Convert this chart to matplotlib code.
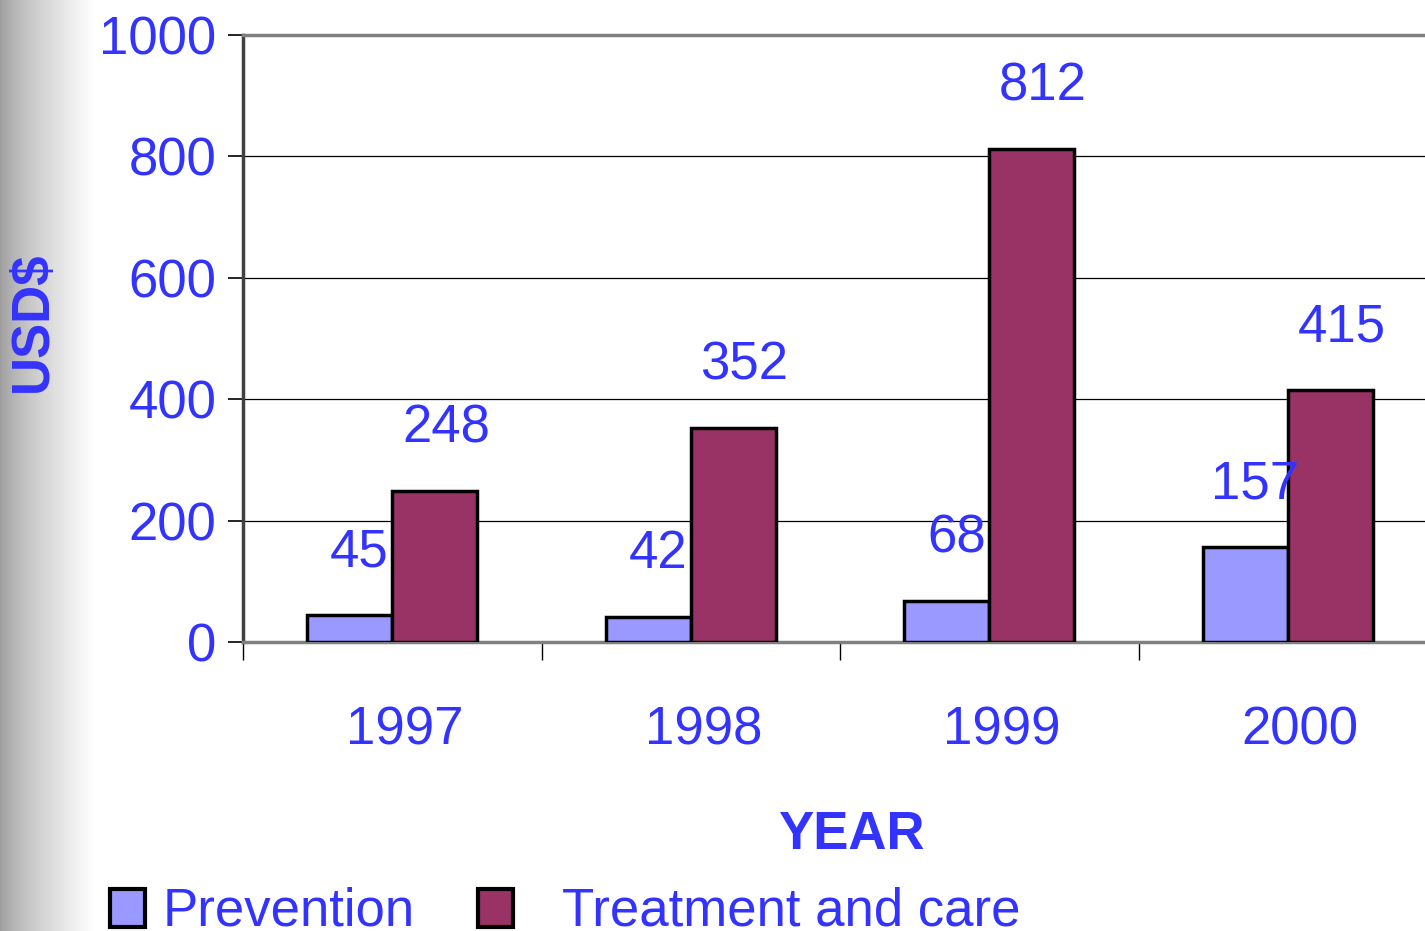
import numpy as np
import matplotlib
matplotlib.use("Agg")
import matplotlib.pyplot as plt
import matplotlib.transforms as mtransforms
from matplotlib.patches import Rectangle

plt.rcParams["font.family"] = ["Liberation Sans", "DejaVu Sans"]

# data
years = ["1997", "1998", "1999", "2000"]
prevention = [45, 42, 68, 157]
treatment = [248, 352, 812, 415]
series_names = ["Prevention", "Treatment and care"]

BLUE = "#3333FF"
C_PREV = "#9999FF"
C_TREAT = "#993366"
FS = 38

fig = plt.figure(figsize=(14.25, 9.31), dpi=100, facecolor="white")

# grey gradient strip on the left
bg = fig.add_axes([0, 0, 0.066, 1], zorder=0)
grad = np.linspace(0, 1, 256).reshape(1, -1) ** 0.7
bg.imshow(grad, aspect="auto", cmap="gray", vmin=-1.55, vmax=1.0, extent=[0, 1, 0, 1])
bg.axis("off")

# main axes: x from 243px, y from 35px (top) to 642px (bottom)
W, H = 1425, 931
left = 243 / W
width = 4 * 298.5 / W
bottom = (H - 642) / H
height = (642 - 35) / H
ax = fig.add_axes([left, bottom, width, height], zorder=1)
ax.set_facecolor("none")

x = np.arange(len(years))
bw = 0.285
ax.bar(x - bw / 2, prevention, bw, color=C_PREV, edgecolor="black", linewidth=2.5, zorder=3)
ax.bar(x + bw / 2, treatment, bw, color=C_TREAT, edgecolor="black", linewidth=2.5, zorder=3)

for xi, v in zip(x - bw / 2, prevention):
    ax.annotate(str(v), (xi, v), xytext=(7, 45), textcoords="offset points",
                ha="center", va="center", fontsize=FS, color=BLUE, zorder=5)
for xi, v in zip(x + bw / 2, treatment):
    ax.annotate(str(v), (xi, v), xytext=(8, 45), textcoords="offset points",
                ha="center", va="center", fontsize=FS, color=BLUE, zorder=2)

ax.set_xlim(-0.5, 3.5)
ax.set_ylim(0, 1000)
ax.set_yticks(range(0, 1001, 200))
ax.set_yticklabels([str(v) for v in range(0, 1001, 200)], fontsize=FS, color=BLUE)
ax.tick_params(axis="y", direction="out", length=11, width=1.2, pad=8)

ax.set_xticks(x)
ax.set_xticklabels(years, fontsize=FS, color=BLUE)
ax.tick_params(axis="x", which="major", length=0, pad=46)
shift = mtransforms.ScaledTranslation(9 / 72, 0, fig.dpi_scale_trans)
for lbl in ax.get_xticklabels():
    lbl.set_transform(lbl.get_transform() + shift)
ax.set_xticks(np.arange(-0.5, 4.0, 1.0), minor=True)
ax.tick_params(axis="x", which="minor", direction="out", length=13, width=1.0)

ax.yaxis.grid(True, color="black", linewidth=0.9, zorder=1)
ax.set_axisbelow(True)

ax.spines["right"].set_visible(False)
ax.spines["top"].set_color("#808080")
ax.spines["top"].set_linewidth(2.5)
ax.spines["left"].set_color("#404040")
ax.spines["left"].set_linewidth(2.5)
ax.spines["bottom"].set_color("#808080")
ax.spines["bottom"].set_linewidth(2.5)

# axis titles
fig.text(851 / W, 1 - 835 / H, "YEAR", fontsize=FS, fontweight="bold", color=BLUE,
         ha="center", va="center")
fig.text(33 / W, 1 - 322 / H, "USD$", fontsize=FS, fontweight="bold", color=BLUE,
         ha="center", va="center", rotation=90)

# legend
legend_items = [(110, 163, C_PREV), (478, 562, C_TREAT)]
for (px, tx, col), name in zip(legend_items, series_names):
    fig.patches.append(Rectangle((px / W, 1 - 927 / H), 35 / W, 38 / H,
                                 transform=fig.transFigure, facecolor=col,
                                 edgecolor="black", linewidth=3))
    fig.text(tx / W, 1 - 911 / H, name, fontsize=FS, color=BLUE,
             ha="left", va="center")

fig.savefig("out.png", dpi=100)
